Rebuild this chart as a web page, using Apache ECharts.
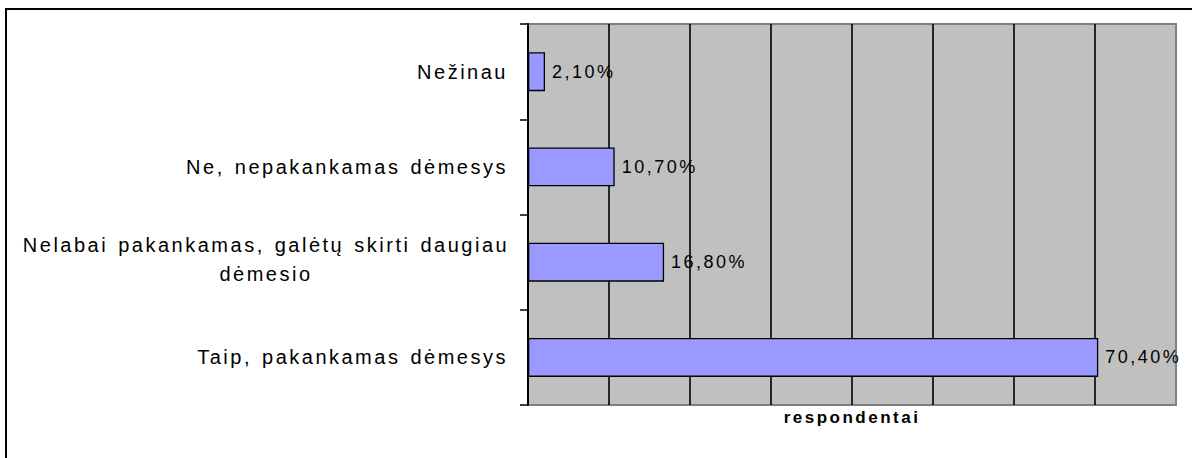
<!DOCTYPE html>
<html>
<head>
<meta charset="utf-8">
<script src="https://cdn.jsdelivr.net/npm/echarts@6/dist/echarts.min.js"></script>
<style>
  html, body { margin: 0; padding: 0; background: #fff; }
  #chart { width: 1192px; height: 458px; }
  /* spaced-out lettering like the original */
  #chart text { letter-spacing: 2.5px; word-spacing: 2px; }
</style>
</head>
<body>
<div id="chart"></div>
<script>
// categories top to bottom
var categories = [
  'Nežinau',
  'Ne, nepakankamas dėmesys',
  'Nelabai pakankamas, galėtų skirti daugiau dėmesio',
  'Taip, pakankamas dėmesys'
];
var shares = [2.1, 10.7, 16.8, 70.4];
var axisName = 'respondentai';

var font = 'Liberation Sans, Arial, sans-serif';

// wrap long labels word by word, max ~42 chars on one line
function wrap(txt) {
  if (txt.length <= 42) return txt;
  var words = txt.split(' '), lines = [], cur = '';
  words.forEach(function (w) {
    if (cur && (cur + ' ' + w).length > 42) { lines.push(cur); cur = w; }
    else cur = cur ? cur + ' ' + w : w;
  });
  lines.push(cur);
  return lines.map(function (l) { return '{w|' + l + '}'; }).join('\n');
}

var chart = echarts.init(document.getElementById('chart'), null, {renderer: 'svg'});
chart.setOption({
  animation: false,
  backgroundColor: '#fff',
  textStyle: {fontFamily: font},
  graphic: [{
    type: 'rect',
    shape: {x: 6, y: 9, width: 1200, height: 460},
    style: {fill: 'none', stroke: '#000', lineWidth: 2},
    silent: true
  }],
  grid: {
    left: 528,
    right: 16,
    top: 24,
    bottom: 53,
    show: true,
    backgroundColor: '#C0C0C0',
    borderColor: '#808080',
    borderWidth: 2,
    outerBoundsMode: 'none'
  },
  xAxis: {
    type: 'value',
    min: 0,
    max: 80,
    interval: 10,
    name: axisName,
    nameLocation: 'middle',
    nameGap: 4,
    nameTextStyle: {fontSize: 17, fontWeight: 'bold', color: '#000', fontFamily: font},
    axisLine: {show: false},
    axisTick: {show: false},
    axisLabel: {show: false},
    splitLine: {
      show: true,
      showMinLine: false,
      showMaxLine: false,
      lineStyle: {color: '#000', width: 1.6}
    }
  },
  yAxis: {
    type: 'category',
    inverse: true,
    data: categories,
    axisLine: {show: true, lineStyle: {color: '#000', width: 2}},
    axisTick: {show: true, length: 8, lineStyle: {color: '#000', width: 1.5}},
    axisLabel: {
      margin: 20,
      fontSize: 20,
      color: '#000',
      fontFamily: font,
      formatter: wrap,
      rich: {
        w: {width: 484, align: 'center', lineHeight: 29, fontSize: 20, color: '#000', fontFamily: font, padding: [0, 0, 5, 0]}
      }
    },
    splitLine: {show: false}
  },
  series: [{
    type: 'bar',
    data: shares,
    barWidth: 39,
    itemStyle: {color: '#9999FF', borderColor: '#000', borderWidth: 1.3},
    label: {
      show: true,
      position: 'right',
      distance: 7,
      fontSize: 18,
      color: '#000',
      fontFamily: font,
      formatter: function (p) { return p.value.toFixed(2).replace('.', ',') + '%'; }
    }
  }]
});
</script>
</body>
</html>
